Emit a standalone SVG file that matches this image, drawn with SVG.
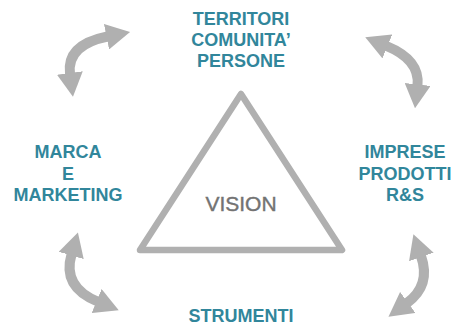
<svg xmlns="http://www.w3.org/2000/svg" width="455" height="327" viewBox="0 0 455 327">
  <style>
    .lbl { font-family: "Liberation Sans", Arial, sans-serif; font-weight: bold; font-size: 18px; fill: #31869b; text-anchor: middle; }
    .vision { font-family: "Liberation Sans", Arial, sans-serif; font-size: 21px; fill: #737373; stroke: #737373; stroke-width: 0.4; text-anchor: middle; }
    .tri { fill: none; stroke: #b0b0b0; stroke-width: 6.5; stroke-linejoin: round; }
    .arc { fill: none; stroke: #b0b0b0; stroke-width: 10; marker-start: url(#head); marker-end: url(#head); }
  </style>
  <defs>
    <marker id="head" viewBox="0 0 24 26" markerWidth="24" markerHeight="26" markerUnits="userSpaceOnUse" refX="1" refY="13" orient="auto-start-reverse">
      <path d="M0,0 L24,13 L0,26 Z" fill="#b0b0b0"/>
    </marker>
  </defs>
  <rect width="455" height="327" fill="#ffffff"/>

  <g id="vision">
    <polygon class="tri" points="241,94 342,250 140,250"/>
    <text class="vision" x="241" y="211">VISION</text>
  </g>

  <g id="territori">
    <text class="lbl" x="241" y="25">TERRITORI</text>
    <text class="lbl" x="241" y="46">COMUNITA’</text>
    <text class="lbl" x="241" y="67">PERSONE</text>
  </g>

  <g id="marca">
    <text class="lbl" x="68" y="158">MARCA</text>
    <text class="lbl" x="68" y="180">E</text>
    <text class="lbl" x="68" y="201">MARKETING</text>
  </g>

  <g id="imprese">
    <text class="lbl" x="405" y="158">IMPRESE</text>
    <text class="lbl" x="405" y="180">PRODOTTI</text>
    <text class="lbl" x="405" y="201">R&amp;S</text>
  </g>

  <g id="strumenti">
    <text class="lbl" x="241" y="322">STRUMENTI</text>
  </g>

  <g id="connectors">
    <path class="arc" d="M70,74 Q66.2,44.8 107.5,36.5"/>
    <path class="arc" d="M386.5,46 Q420.3,59.9 417.5,85.5"/>
    <path class="arc" d="M71.5,254.5 Q62.1,286.8 97.5,301.5"/>
    <path class="arc" d="M421,256 Q431.2,285.2 407,303"/>
  </g>
</svg>
